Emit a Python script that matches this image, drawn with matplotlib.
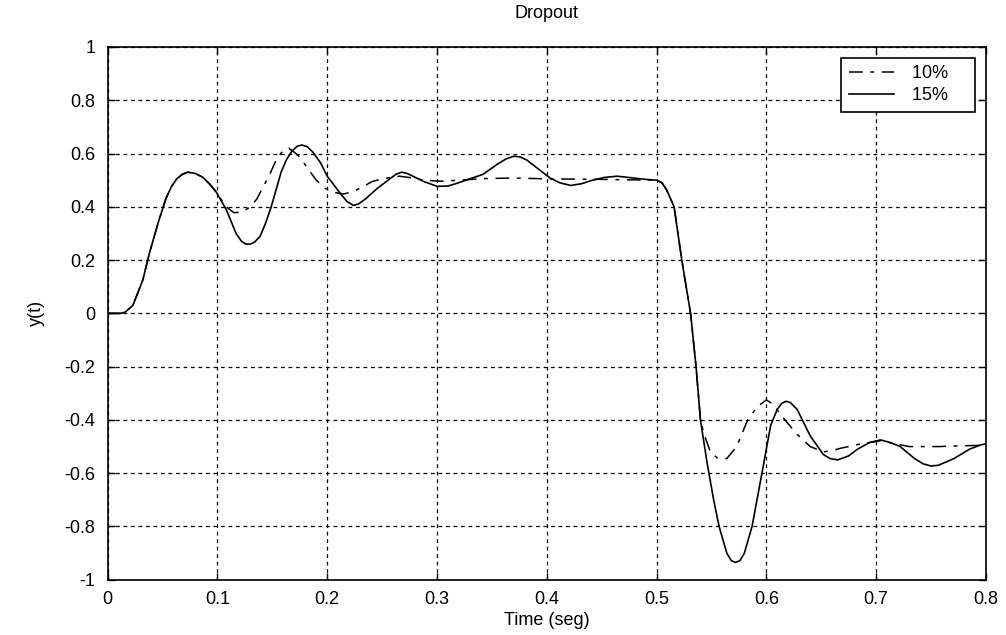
import matplotlib.pyplot as plt

# --- data ---
t15 = [0, 0.012, 0.016, 0.023, 0.032, 0.038, 0.046, 0.053, 0.058, 0.063, 0.068, 0.073,
       0.080, 0.087, 0.093, 0.099, 0.108, 0.117, 0.122, 0.126, 0.130, 0.134, 0.139,
       0.144, 0.149, 0.158, 0.163, 0.168, 0.173, 0.177, 0.182, 0.187, 0.194, 0.200,
       0.212, 0.218, 0.224, 0.229, 0.235, 0.245, 0.257, 0.263, 0.268, 0.273, 0.278,
       0.288, 0.300, 0.310, 0.318, 0.330, 0.342, 0.355, 0.363, 0.370, 0.376, 0.382,
       0.393, 0.403, 0.412, 0.422, 0.432, 0.440, 0.452, 0.464, 0.475, 0.490, 0.500,
       0.505, 0.509, 0.516, 0.523, 0.531, 0.536, 0.540, 0.546, 0.552, 0.557, 0.564,
       0.568, 0.572, 0.576, 0.580, 0.587, 0.596, 0.604, 0.610, 0.614, 0.618, 0.622,
       0.628, 0.640, 0.652, 0.658, 0.665, 0.675, 0.683, 0.694, 0.704, 0.713, 0.722,
       0.735, 0.743, 0.750, 0.757, 0.771, 0.785, 0.795, 0.800]
y15 = [0, 0, 0.005, 0.03, 0.125, 0.225, 0.34, 0.43, 0.475, 0.505, 0.522, 0.53,
       0.525, 0.51, 0.485, 0.455, 0.39, 0.30, 0.27, 0.26, 0.26, 0.268, 0.29,
       0.34, 0.40, 0.53, 0.578, 0.61, 0.628, 0.632, 0.625, 0.605, 0.565, 0.515,
       0.45, 0.42, 0.405, 0.412, 0.43, 0.467, 0.505, 0.523, 0.53, 0.525, 0.515,
       0.495, 0.477, 0.478, 0.488, 0.505, 0.522, 0.56, 0.58, 0.59, 0.587, 0.575,
       0.54, 0.508, 0.49, 0.48, 0.487, 0.498, 0.51, 0.515, 0.51, 0.503, 0.50,
       0.49, 0.465, 0.40, 0.20, 0.0, -0.2, -0.4, -0.56, -0.70, -0.80, -0.90,
       -0.928, -0.935, -0.928, -0.90, -0.80, -0.60, -0.42, -0.36, -0.338, -0.33, -0.335,
       -0.36, -0.46, -0.53, -0.545, -0.55, -0.535, -0.51, -0.485, -0.475, -0.485, -0.50,
       -0.545, -0.565, -0.573, -0.57, -0.545, -0.51, -0.494, -0.49]

t10 = [0, 0.012, 0.016, 0.023, 0.032, 0.038, 0.046, 0.053, 0.058, 0.063, 0.068, 0.073,
       0.080, 0.087, 0.093, 0.099, 0.108, 0.115, 0.122, 0.130, 0.136, 0.148, 0.154,
       0.160, 0.165, 0.170, 0.175, 0.183, 0.190, 0.198, 0.205, 0.215, 0.222, 0.231,
       0.241, 0.251, 0.266, 0.278, 0.288, 0.303, 0.321, 0.342, 0.370, 0.400, 0.450,
       0.500, 0.505, 0.509, 0.516, 0.523, 0.531, 0.536, 0.540, 0.543, 0.549, 0.556,
       0.564, 0.573, 0.583, 0.592, 0.600, 0.606, 0.613, 0.627, 0.640, 0.652, 0.660,
       0.668, 0.686, 0.704, 0.718, 0.730, 0.757, 0.780, 0.800]
y10 = [0, 0, 0.005, 0.03, 0.125, 0.225, 0.34, 0.43, 0.475, 0.505, 0.522, 0.53,
       0.525, 0.51, 0.485, 0.455, 0.40, 0.378, 0.38, 0.40, 0.43, 0.525, 0.58,
       0.612, 0.62, 0.605, 0.587, 0.54, 0.50, 0.47, 0.455, 0.448, 0.455, 0.472,
       0.495, 0.506, 0.515, 0.508, 0.50, 0.496, 0.50, 0.506, 0.508, 0.505, 0.503,
       0.50, 0.49, 0.465, 0.40, 0.20, 0.0, -0.2, -0.4, -0.45, -0.52, -0.545,
       -0.545, -0.50, -0.40, -0.35, -0.325, -0.34, -0.38, -0.45, -0.50, -0.52, -0.515,
       -0.506, -0.49, -0.478, -0.49, -0.50, -0.50, -0.497, -0.495]

xticks = [0, 0.1, 0.2, 0.3, 0.4, 0.5, 0.6, 0.7, 0.8]
xtick_labels = ['0', '0.1', '0.2', '0.3', '0.4', '0.5', '0.6', '0.7', '0.8']
yticks = [-1, -0.8, -0.6, -0.4, -0.2, 0, 0.2, 0.4, 0.6, 0.8, 1]
ytick_labels = ['-1', '-0.8', '-0.6', '-0.4', '-0.2', '0', '0.2', '0.4', '0.6', '0.8', '1']

plt.rcParams['font.family'] = ['Liberation Sans', 'DejaVu Sans']

fig = plt.figure(figsize=(10.06, 6.35), dpi=100)
ax = fig.add_axes([0.107, 0.087, 0.873, 0.839])

ax.plot(t10, y10, color='black', lw=1.1, linestyle=(0, (9, 5, 2.5, 5)), label='10%    ')
ax.plot(t15, y15, color='black', lw=1.2, linestyle='-', label='15%    ')

ax.set_xlim(0, 0.8)
ax.set_ylim(-1, 1)
ax.set_xticks(xticks)
ax.set_xticklabels(xtick_labels)
ax.set_yticks(yticks)
ax.set_yticklabels(ytick_labels)
ax.tick_params(direction='in', top=True, right=True, labelsize=13, length=5, width=1)
ax.tick_params(axis='x', pad=8)
ax.tick_params(axis='y', pad=9)
ax.grid(True, color='black', linestyle=(0, (3, 3)), linewidth=0.9)
for s in ax.spines.values():
    s.set_linewidth(1.2)

ax.set_title('Dropout', fontsize=13, pad=21)
ax.set_xlabel('Time (seg)', fontsize=13, labelpad=3)
ax.set_ylabel('y(t)', fontsize=13, labelpad=14)

leg = ax.legend(loc='upper right', fontsize=13, frameon=True, fancybox=False,
                edgecolor='black', framealpha=1, handlelength=2.5, borderpad=0.4,
                labelspacing=0.3, handletextpad=1.0, borderaxespad=0.6)
leg.get_frame().set_linewidth(1.2)

fig.savefig('out.png', dpi=100)
